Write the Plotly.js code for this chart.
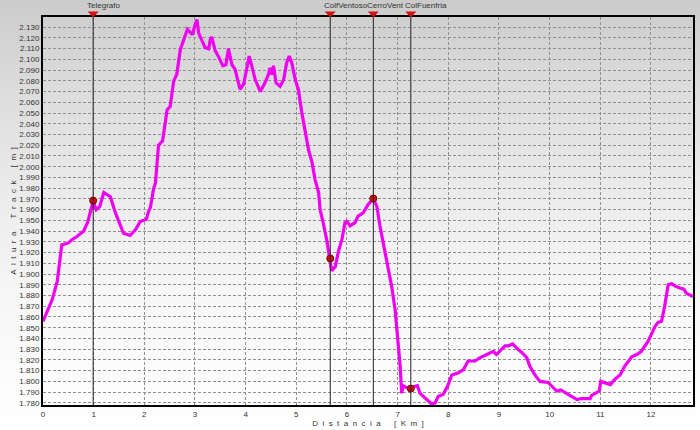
<!DOCTYPE html>
<html>
<head>
<meta charset="utf-8">
<script src="https://cdn.plot.ly/plotly-3.0.1.min.js"></script>
<style>
html,body{margin:0;padding:0;}
body{width:700px;height:430px;background:linear-gradient(to bottom,#cbcbcb 0%,#dcdcdc 20%,#ebebeb 45%,#f7f7f7 70%,#ffffff 100%);}
#chart{width:700px;height:430px;}
</style>
</head>
<body>
<div id="chart"></div>
<script>
// Track profile: distance [km] and elevation [m]
const distKm = [0.00,0.18,0.28,0.30,0.37,0.50,0.57,0.67,0.80,0.88,0.99,1.05,1.12,1.20,1.26,1.33,1.43,1.52,1.59,1.72,1.82,1.92,2.04,2.08,2.12,2.18,2.22,2.28,2.36,2.45,2.51,2.58,2.64,2.71,2.77,2.85,2.91,2.95,3.00,3.04,3.07,3.14,3.20,3.27,3.30,3.33,3.40,3.46,3.55,3.61,3.66,3.73,3.79,3.89,3.96,4.02,4.07,4.12,4.19,4.29,4.38,4.45,4.48,4.52,4.55,4.60,4.68,4.75,4.81,4.86,4.91,4.98,5.04,5.11,5.17,5.24,5.31,5.37,5.44,5.47,5.53,5.60,5.66,5.70,5.77,5.83,5.90,5.96,6.00,6.06,6.16,6.22,6.32,6.42,6.52,6.59,6.65,6.75,6.88,6.95,7.01,7.05,7.08,7.11,7.18,7.26,7.31,7.39,7.44,7.54,7.67,7.74,7.80,7.90,7.98,8.07,8.20,8.30,8.39,8.53,8.62,8.76,8.89,8.95,9.05,9.12,9.18,9.27,9.35,9.45,9.55,9.61,9.71,9.81,9.97,10.07,10.14,10.22,10.34,10.43,10.54,10.63,10.73,10.80,10.83,10.87,10.93,10.98,11.01,11.09,11.20,11.29,11.39,11.48,11.62,11.72,11.81,11.88,11.94,12.04,12.08,12.14,12.21,12.27,12.31,12.34,12.41,12.47,12.57,12.65,12.70,12.77,12.83];
const elevM = [1856,1876,1893,1900,1927,1929,1932,1935,1940,1948,1968,1960,1963,1976,1974,1972,1957,1946,1938,1936,1941,1949,1951,1958,1962,1979,1985,2020,2024,2053,2056,2080,2086,2109,2117,2128,2125,2123,2132,2137,2125,2117,2111,2110,2118,2121,2108,2103,2094,2095,2110,2095,2091,2072,2077,2091,2103,2094,2081,2070,2078,2086,2092,2086,2094,2078,2075,2081,2097,2103,2097,2081,2072,2050,2035,2016,2004,1988,1976,1960,1948,1932,1914,1903,1907,1921,1932,1948,1949,1945,1948,1954,1957,1965,1970,1963,1945,1920,1889,1867,1839,1814,1789,1796,1794,1793,1795,1796,1789,1785,1779,1780,1786,1788,1795,1806,1808,1811,1819,1819,1822,1825,1828,1825,1830,1833,1833,1835,1831,1827,1822,1814,1806,1800,1799,1794,1791,1792,1789,1786,1783,1784,1784,1784,1787,1788,1789,1791,1800,1799,1797,1802,1806,1814,1823,1825,1828,1833,1837,1847,1851,1855,1856,1870,1882,1890,1891,1889,1887,1886,1882,1880,1879];

// Waypoints
const wpNames = ["Telegrafo","ColfVentoso","CerroVent","ColFuenfria"];
const wpKm = [0.99,5.67,6.52,7.26];
const wpElev = [1968.5,1914.5,1970.4,1793.3];

// Axis ticks and ranges
const xTicks = [0,1,2,3,4,5,6,7,8,9,10,11,12];
const xRange = [0,12.83];
const yRange = [1778,2139.5];
const xTitle = "Distancia [Km]";
const yTitle = "Altura Track [m]";

const FONT = "Liberation Sans, Arial, sans-serif";
const spaced = s => s.split(' ').map(w => w.split('').join('&nbsp; ')).join('&nbsp; &nbsp; &nbsp; ');

const traces = [
  {
    x: distKm, y: elevM, type: 'scatter', mode: 'lines',
    line: {color: '#f000f0', width: 3.2},
    hoverinfo: 'skip'
  },
  {
    x: wpKm, y: wpElev, type: 'scatter', mode: 'markers',
    marker: {color: '#d01010', size: 7, line: {color: '#7a0000', width: 1}},
    hoverinfo: 'skip'
  }
];

const lineShapes = wpKm.map(k => ({
  type: 'line', xref: 'x', yref: 'paper', x0: k, x1: k, y0: 0, y1: 1,
  line: {color: '#222222', width: 1}
}));
const triShapes = wpKm.map(k => ({
  type: 'path', xref: 'x', yref: 'paper',
  xsizemode: 'pixel', ysizemode: 'pixel', xanchor: k, yanchor: 1,
  path: 'M -5.5 5.5 L 5.5 5.5 L 0 -0.5 Z',
  fillcolor: '#d41010', line: {width: 0}, layer: 'above'
}));

const annotations = wpNames.map((n, i) => ({
  text: n, x: wpKm[i], xref: 'x', y: 1, yref: 'paper',
  xanchor: 'left', yanchor: 'bottom', xshift: -8, yshift: 5,
  showarrow: false, font: {family: FONT, size: 8, color: '#333333'}
}));

const layout = {
  width: 700, height: 430,
  margin: {l: 43, r: 7, t: 17, b: 25},
  paper_bgcolor: 'rgba(0,0,0,0)',
  plot_bgcolor: 'rgba(0,0,0,0)',
  showlegend: false,
  separators: ',.',
  font: {family: FONT, size: 8, color: '#333333'},
  xaxis: {
    range: xRange, tickvals: xTicks, ticktext: xTicks.map(String),
    showgrid: true, gridcolor: '#909090', griddash: '3px,2px', gridwidth: 1,
    zeroline: false, showline: true, linecolor: '#000000', linewidth: 2, mirror: true,
    ticks: '', ticklen: 0,
    tickfont: {family: FONT, size: 8, color: '#333333'},
    title: {text: spaced(xTitle), font: {family: FONT, size: 8, color: '#333333'}, standoff: 1}
  },
  yaxis: {
    range: yRange, dtick: 10, tick0: 1780, tickformat: ',d',
    showgrid: true, gridcolor: '#909090', griddash: '3px,2px', gridwidth: 1,
    zeroline: false, showline: true, linecolor: '#000000', linewidth: 2, mirror: true,
    ticks: '', ticklen: 0,
    tickfont: {family: FONT, size: 8, color: '#333333'},
    title: {text: spaced(yTitle), font: {family: FONT, size: 8, color: '#333333'}, standoff: 2}
  },
  shapes: lineShapes.concat(triShapes),
  annotations: annotations
};

Plotly.newPlot('chart', traces, layout, {displayModeBar: false, staticPlot: true});
</script>
</body>
</html>
